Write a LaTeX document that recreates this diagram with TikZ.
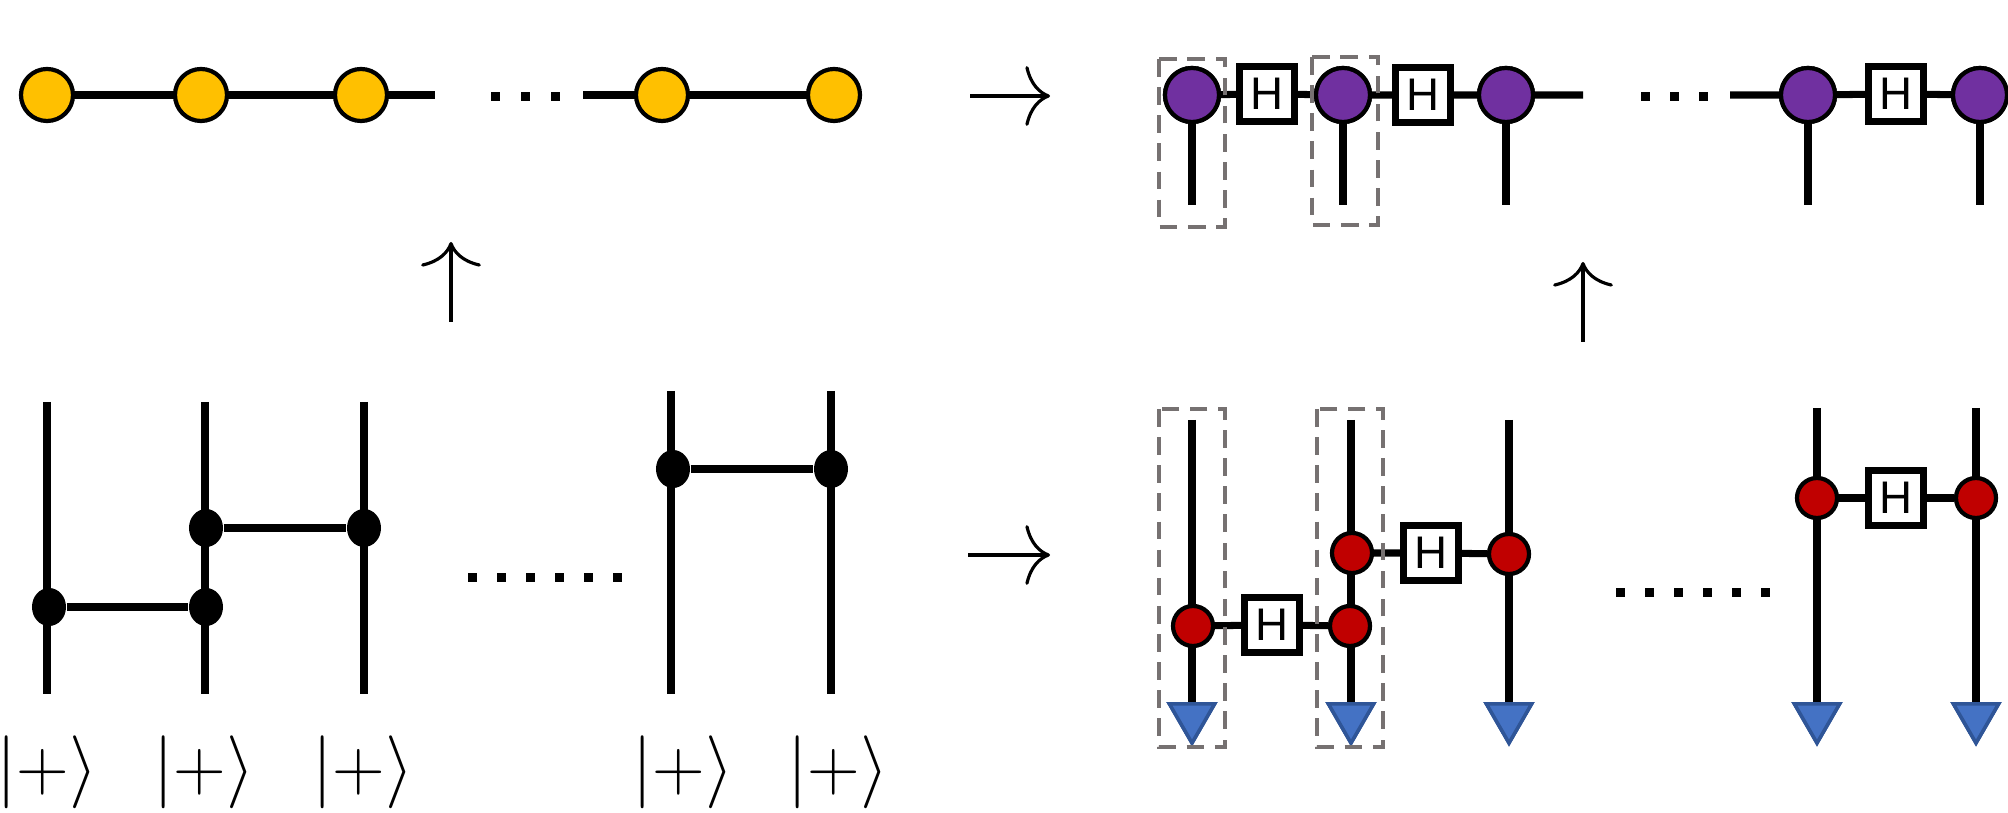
\documentclass[tikz,border=0pt]{standalone}
\usepackage{fontspec}
\newfontfamily\hfont{Liberation Sans}
\usetikzlibrary{arrows.meta,shapes.geometric}
\definecolor{ylw}{HTML}{FFC000}
\definecolor{prp}{HTML}{7030A0}
\definecolor{rd}{HTML}{C00000}
\definecolor{blu}{HTML}{4472C4}
\definecolor{bluD}{HTML}{2F5597}
\definecolor{gry}{HTML}{767171}
\begin{document}
\begin{tikzpicture}[x=0.01cm,y=-0.01cm,
  wire/.style={line width=2pt,black},
  ydot/.style={circle,draw=black,line width=1.2pt,fill=ylw,minimum size=0.52cm,inner sep=0pt},
  pdot/.style={circle,draw=black,line width=1.2pt,fill=prp,minimum size=0.54cm,inner sep=0pt},
  rdot/.style={circle,draw=black,line width=1.2pt,fill=rd,minimum size=0.40cm,inner sep=0pt},
  bdot/.style={ellipse,fill=black,minimum width=0.34cm,minimum height=0.38cm,inner sep=0pt},
  hbox/.style={draw=black,fill=white,line width=2pt,minimum size=0.55cm,inner sep=0pt,font=\hfont\fontsize{13}{14}\selectfont},
  meas/.style={regular polygon,regular polygon sides=3,shape border rotate=180,draw=bluD,fill=blu,line width=1pt,minimum size=0.52cm,inner sep=0pt},
  dbox/.style={draw=gry,line width=1.2pt,dash pattern=on 5pt off 3pt},
  ket/.style={font=\fontsize{22}{26}\selectfont},
  bigarrow/.style={line width=0.9pt,-{Computer Modern Rightarrow[length=7pt,width=17pt]}},
  sq/.style={fill=black,minimum size=0.09cm,inner sep=0pt}]
\useasboundingbox (0,0) rectangle (2008,813);
% ---- top left: graph state
\coordinate (tl1) at (435,95);
\coordinate (tl2) at (583,95);
\draw[wire] (47,95) -- (tl1);
\draw[wire] (tl2) -- (834,95);
\foreach \x/\n in {47/a,201/b,361/c,662/d,834/e}{\node[ydot] (y\n) at (\x,95) {};}
\foreach \x [count=\i] in {495,525,555}{\node[sq] (td\i) at (\x,97) {};}
% ---- arrows
\coordinate (ua1) at (451,322); \coordinate (ua2) at (451,242);
\draw[bigarrow] (ua1) -- (ua2);
\coordinate (ub1) at (1583,342); \coordinate (ub2) at (1583,262);
\draw[bigarrow] (ub1) -- (ub2);
\coordinate (ra1) at (970,96); \coordinate (ra2) at (1050,96);
\draw[bigarrow] (ra1) -- (ra2);
\coordinate (rb1) at (968,555); \coordinate (rb2) at (1050,555);
\draw[bigarrow] (rb1) -- (rb2);
% ---- bottom left: circuit
\foreach \x/\t/\n in {47/402/1,205/402/2,364/402/3,671/391/4,831/391/5}{
  \coordinate (lt\n) at (\x,\t); \coordinate (lb\n) at (\x,694);
  \draw[wire] (lt\n) -- (lb\n);}
\node[bdot] (c1) at (49,607) {};
\node[bdot] (c2) at (206,607) {};
\node[bdot] (c3) at (206,528) {};
\node[bdot] (c4) at (364,528) {};
\node[bdot] (c5) at (673,469) {};
\node[bdot] (c6) at (831,469) {};
\draw[wire] (c1) -- (c2); \draw[wire] (c3) -- (c4); \draw[wire] (c5) -- (c6);
\foreach \x [count=\i] in {472,501,530,559,588,617}{\node[sq] (bd\i) at (\x,578) {};}
\foreach \x [count=\i] in {47,204,363,683,838}{\node[ket] (k\i) at (\x,772) {$|{+}\rangle$};}
% ---- top right: graph state with H
\coordinate (te1) at (1583,95);
\coordinate (te2) at (1730,95);
\foreach \x/\n in {1192/1,1343/2,1506/3,1808/4,1980/5}{
  \coordinate (st\n) at (\x,205);
  \draw[wire] (\x,95) -- (st\n);}
\node[pdot] (p1) at (1192,95) {};
\node[pdot] (p2) at (1343,95) {};
\node[pdot] (p3) at (1506,95) {};
\node[pdot] (p4) at (1808,95) {};
\node[pdot] (p5) at (1980,95) {};
\node[hbox] (h1) at (1267,94) {H};
\node[hbox] (h2) at (1423,95) {H};
\node[hbox] (h3) at (1896,94) {H};
\draw[wire] (p1) -- (h1) -- (p2) -- (h2) -- (p3) -- (te1);
\draw[wire] (te2) -- (p4) -- (h3) -- (p5);
\node[hbox] at (1267,94) {H};\node[hbox] at (1423,95) {H};\node[hbox] at (1896,94) {H};
\node[pdot] at (1192,95) {};\node[pdot] at (1343,95) {};\node[pdot] at (1506,95) {};\node[pdot] at (1808,95) {};\node[pdot] at (1980,95) {};
\foreach \x [count=\i] in {1645,1674,1703}{\node[sq] (rd\i) at (\x,97) {};}
\draw[dbox] (1159,59) rectangle (1225,227);
\draw[dbox] (1312,57) rectangle (1378,225);
% ---- bottom right: measurement pattern
\foreach \x/\t/\n in {1192/420/1,1351/420/2,1509/420/3,1817/408/4,1976/408/5}{
  \coordinate (mt\n) at (\x,\t);
  \node[meas] (m\n) at (\x,717) {};
  \draw[wire] (mt\n) -- (m\n.north);}
\node[meas] at (1192,717) {};\node[meas] at (1351,717) {};\node[meas] at (1509,717) {};\node[meas] at (1817,717) {};\node[meas] at (1976,717) {};
\node[rdot] (r1) at (1193,626) {};
\node[rdot] (r2) at (1350,626) {};
\node[rdot] (r3) at (1352,553) {};
\node[rdot] (r4) at (1509,554) {};
\node[rdot] (r5) at (1817,498) {};
\node[rdot] (r6) at (1976,498) {};
\node[hbox] (h4) at (1272,625) {H};
\node[hbox] (h5) at (1431,553) {H};
\node[hbox] (h6) at (1896,498) {H};
\draw[wire] (r1) -- (h4) -- (r2);
\draw[wire] (r3) -- (h5) -- (r4);
\draw[wire] (r5) -- (h6) -- (r6);
\foreach \x [count=\i] in {1620,1649,1678,1707,1736,1765}{\node[sq] (ed\i) at (\x,593) {};}
\draw[dbox] (1159,409) rectangle (1225,747);
\draw[dbox] (1317,409) rectangle (1383,747);
\end{tikzpicture}
\end{document}
